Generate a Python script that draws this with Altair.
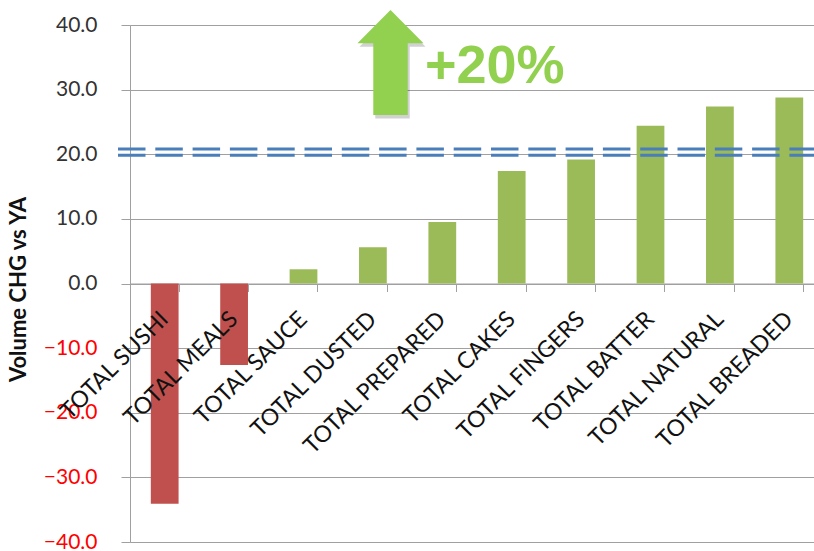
import altair as alt
import pandas as pd

categories = ["TOTAL SUSHI", "TOTAL MEALS", "TOTAL SAUCE", "TOTAL DUSTED", "TOTAL PREPARED",
              "TOTAL CAKES", "TOTAL FINGERS", "TOTAL BATTER", "TOTAL NATURAL", "TOTAL BREADED"]
values = [-34.1, -12.6, 2.2, 5.6, 9.5, 17.4, 19.2, 24.4, 27.4, 28.8]
target_lines = [20.8, 19.85]
y_ticks = [-40, -30, -20, -10, 0, 10, 20, 30, 40]
annotation_text = ["+20%"]

df = pd.DataFrame({"cat": categories, "val": values})
df["color"] = ["#C0504D" if v < 0 else "#9BBB59" for v in values]
lines_df = pd.DataFrame({"y": target_lines})

xscale = alt.Scale(domain=categories, range=[0, 694], paddingInner=0.6, paddingOuter=0.3)
yscale = alt.Scale(domain=[-40, 40], nice=False, zero=False)

base_font = "Lato"

bars = alt.Chart(df).mark_bar().encode(
    x=alt.X("cat:N", scale=xscale, sort=categories,
            axis=alt.Axis(title=None, labels=False, domainColor="#A0A0A0", tickColor="#A0A0A0",
                          tickSize=8, tickBand="extent", offset=-258.5, grid=False,
                          domainWidth=1)),
    y=alt.Y("val:Q", scale=yscale,
            axis=alt.Axis(values=y_ticks, format=".1f", title="Volume CHG vs YA",
                          titleFont=base_font, titleFontSize=22, titleFontWeight="bold",
                          titleColor="#111", titleX=-112, titleY=264, titleAngle=270,
                          titleAlign="center", titleBaseline="middle",
                          labelFont=base_font, labelFontSize=21,
                          labelColor=alt.condition("datum.value < 0", alt.value("#FF0000"), alt.value("#333333")),
                          labelPadding=24, tickSize=9, tickColor="#A0A0A0",
                          domainColor="#A0A0A0", gridColor="#A0A0A0", gridWidth=1)),
    color=alt.Color("color:N", scale=None),
)

labels = alt.Chart(df).mark_text(
    angle=315, align="right", baseline="middle", font=base_font, fontSize=23, color="#111"
).encode(
    x=alt.X("cat:N", scale=xscale, sort=categories),
    y=alt.datum(-5.0),
    text="cat:N",
)

dash_lines = alt.Chart(lines_df).mark_rule(
    color="#4A7EBB", strokeWidth=3, strokeDash=[27.5, 9.8]
).encode(
    y=alt.Y("y:Q", scale=yscale),
    x=alt.value(-12),
    x2=alt.value(700),
)

arrow_path = "M0,-1L0.629,-0.366L0.328,-0.366L0.328,1L-0.328,1L-0.328,-0.366L-0.629,-0.366Z"
ann_df = pd.DataFrame({"t": annotation_text})

arrow_shadow = alt.Chart(ann_df).mark_point(
    shape=arrow_path, filled=True, color="#000000", opacity=0.18, strokeWidth=0, size=11025
).encode(x=alt.value(262.5), y=alt.value(41))

arrow = alt.Chart(ann_df).mark_point(
    shape=arrow_path, filled=True, color="#92D050", opacity=1, strokeWidth=0, size=11025
).encode(x=alt.value(260.5), y=alt.value(37.5))

ann_text = alt.Chart(ann_df).mark_text(
    align="left", baseline="alphabetic", font="Liberation Sans", fontWeight="bold",
    fontSize=54, color="#92D050"
).encode(x=alt.value(295), y=alt.value(58), text="t:N")

chart = alt.layer(bars, labels, dash_lines, arrow_shadow, arrow, ann_text).properties(
    width=684, height=517,
    autosize=alt.AutoSizeParams(type="none"),
    padding={"left": 130, "top": 25, "right": 0, "bottom": 9},
).configure_view(stroke=None).configure(background="white")

chart.save("out.html", embed_options={"renderer": "svg", "actions": False})
